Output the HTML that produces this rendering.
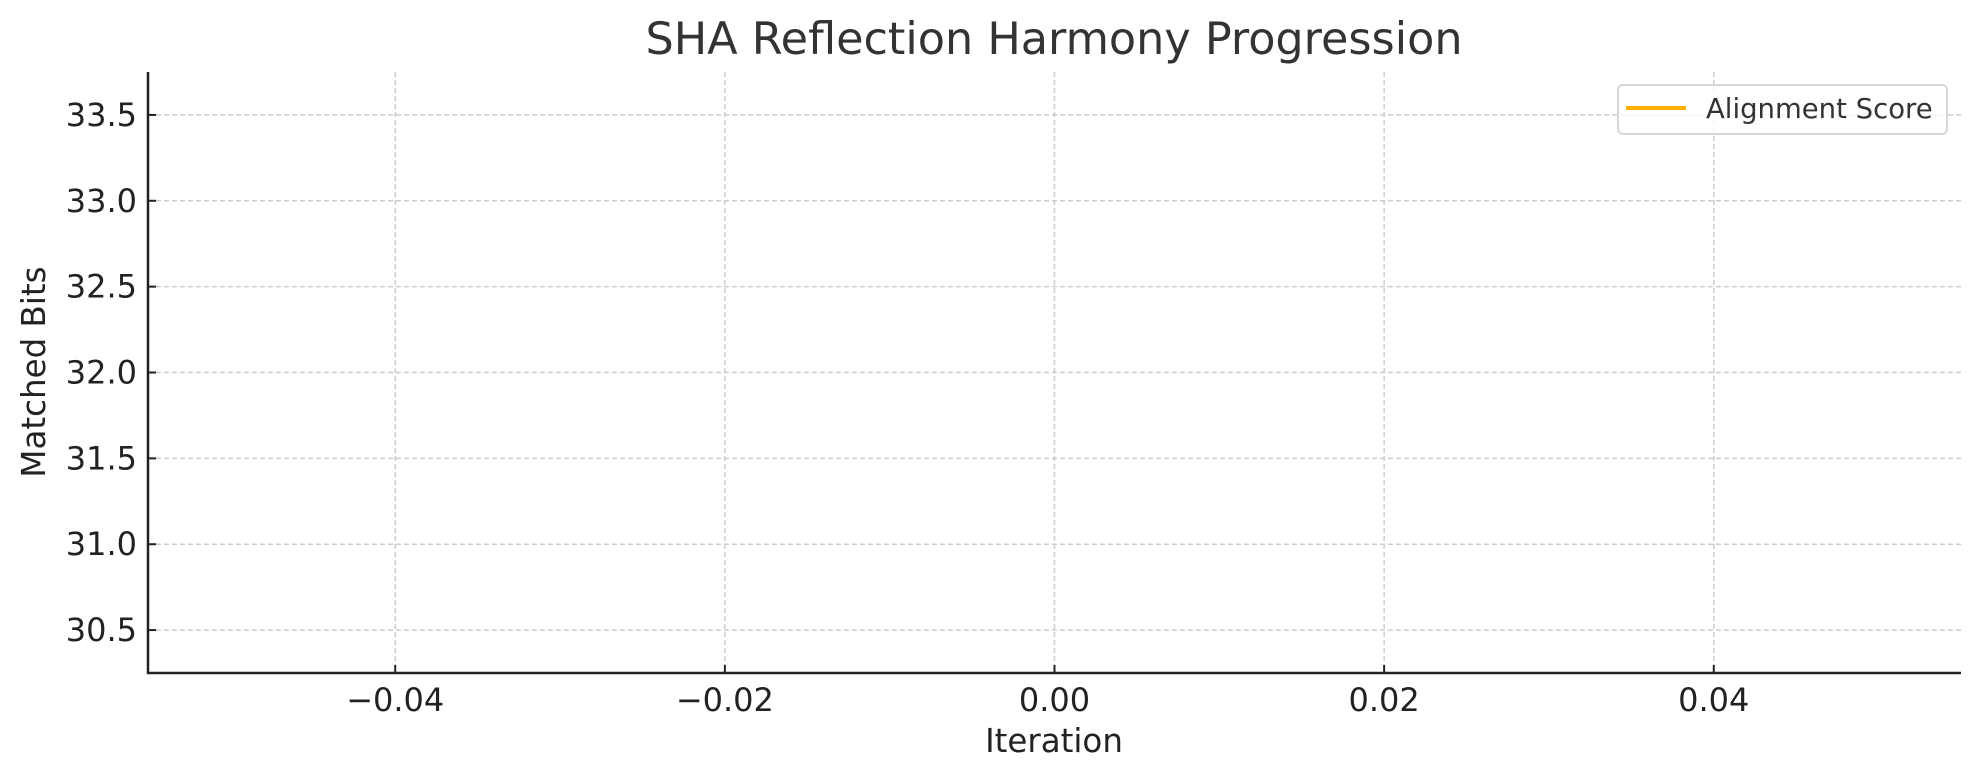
<!DOCTYPE html>
<html><head><meta charset="utf-8"><style>
html,body{margin:0;padding:0;background:#fff;}
svg{display:block;font-family:"DejaVu Sans","Liberation Sans",sans-serif;}
</style></head><body>
<svg id="chart" width="1979" height="780" viewBox="0 0 1979 780">
<text x="1054" y="54" text-anchor="middle" font-size="44.5" fill="#333">SHA Reflection Harmony Progression</text>
<g id="grid"></g>
<g id="axes"></g>
<g id="series"></g>
<text x="1054" y="752" text-anchor="middle" font-size="32.5" fill="#222">Iteration</text>
<text transform="translate(45,372) rotate(-90)" text-anchor="middle" font-size="32.5" fill="#222">Matched Bits</text>
<g>
<rect x="1618" y="85" width="329" height="49" rx="5" fill="#fff" fill-opacity="0.8" stroke="#d6d6d6" stroke-width="2"/>
<line x1="1626" y1="108" x2="1686" y2="108" stroke="#ffb000" stroke-width="4"/>
<text x="1706" y="118" font-size="27.5" fill="#333">Alignment Score</text>
</g>
</svg>
<script>
const xTicks = [-0.04, -0.02, 0.00, 0.02, 0.04];
const xTickLabels = ["\u22120.04", "\u22120.02", "0.00", "0.02", "0.04"];
const yTicks = [30.5, 31.0, 31.5, 32.0, 32.5, 33.0, 33.5];
const yTickLabels = ["30.5", "31.0", "31.5", "32.0", "32.5", "33.0", "33.5"];
const iterations = [];
const alignmentScores = [];

const L = 148, R = 1961, T = 72, B = 673;
const xMin = -0.055, xMax = 0.055, yMin = 30.25, yMax = 33.75;
const sx = v => L + (v - xMin) / (xMax - xMin) * (R - L);
const sy = v => B - (v - yMin) / (yMax - yMin) * (B - T);
const NS = "http://www.w3.org/2000/svg";
function mk(tag, attrs, parent){const e=document.createElementNS(NS,tag);for(const k in attrs)e.setAttribute(k,attrs[k]);parent.appendChild(e);return e;}
const grid=document.getElementById('grid'), axes=document.getElementById('axes'), series=document.getElementById('series');

xTicks.forEach((v,i)=>{
  const x=sx(v);
  const g=mk('line',{x1:x,y1:T,x2:x,y2:B,stroke:'#cccccc','stroke-width':1.5,'stroke-dasharray':'5,3'},grid);
  
  
  const t=mk('line',{x1:x,y1:B,x2:x,y2:B-8,stroke:'#222','stroke-width':2},axes);
  
  
  const l=mk('text',{x:x,y:B+38,'text-anchor':'middle','font-size':32,fill:'#222'},axes);
  l.textContent=xTickLabels[i];
  
  
});
yTicks.forEach((v,i)=>{
  const y=sy(v);
  const g=mk('line',{x1:L,y1:y,x2:R,y2:y,stroke:'#cccccc','stroke-width':1.5,'stroke-dasharray':'5,3'},grid);
  
  
  const t=mk('line',{x1:L,y1:y,x2:L+8,y2:y,stroke:'#222','stroke-width':2},axes);
  
  
  const l=mk('text',{x:L-11,y:y+11,'text-anchor':'end','font-size':32,fill:'#222'},axes);
  l.textContent=yTickLabels[i];
  
  
});
const ax=mk('path',{d:`M${L},${T} L${L},${B} L${R},${B}`,fill:'none',stroke:'#222','stroke-width':2.5},axes);



if(iterations.length){
  const d=iterations.map((v,i)=>(i?'L':'M')+sx(v)+','+sy(alignmentScores[i])).join(' ');
  const p=mk('path',{d:d,fill:'none',stroke:'#ffb000','stroke-width':3.5},series);
  
  
}
</script>
</body></html>
